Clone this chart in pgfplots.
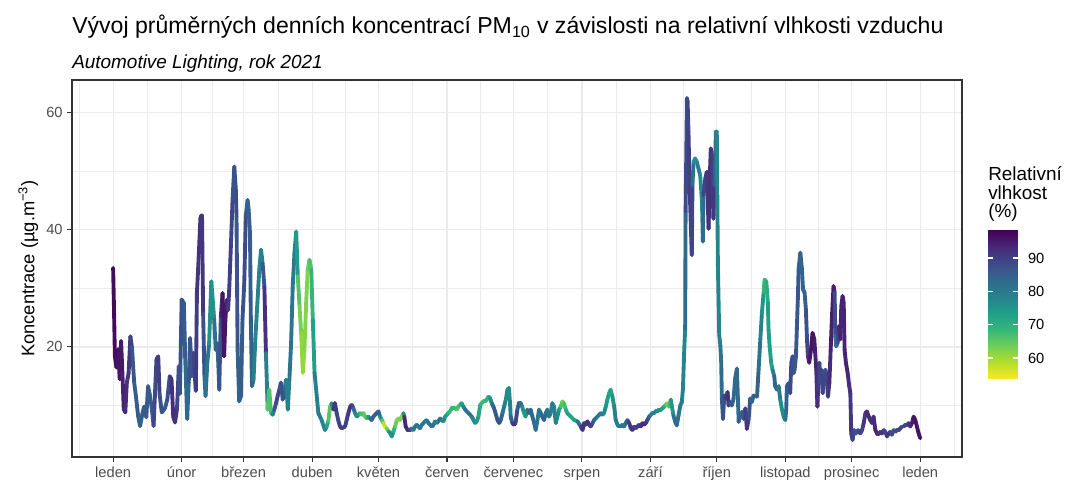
\documentclass[border=0pt]{standalone}
\usepackage{fontspec}
\setmainfont{Liberation Sans}
\usepackage{pgfplots}
\pgfplotsset{compat=1.18}
\definecolor{gridc}{RGB}{235,235,235}
\definecolor{tickc}{RGB}{77,77,77}
\definecolor{framec}{RGB}{51,51,51}
\pgfplotsset{colormap={rviridis}{rgb255=(253,231,37) rgb255=(181,222,43) rgb255=(110,206,88) rgb255=(53,183,121) rgb255=(31,158,137) rgb255=(38,130,142) rgb255=(49,104,142) rgb255=(62,73,137) rgb255=(72,40,120) rgb255=(68,1,84)}}
\pgfplotstableread{
d v h
0 33.5 97
0.4 26.4 97
0.8 18.4 97
1.5 16.5 97
2.2 19.6 96
3.0 14.5 96
3.6 21.0 96
4.2 15.5 95
4.8 9.4 94
5.5 8.8 94
6.2 13.9 92
7.0 15.5 91
7.8 21.8 91
8.5 20.0 88
9.5 14.0 85
10.3 11.6 85
11.3 8.2 86
12.2 6.5 84
13.2 8.5 86
14.0 9.8 85
15.0 8.0 85
15.8 13.3 86
16.5 12.0 85
17.5 9.5 86
18.3 6.5 85
19.6 17.9 92
20.4 18.4 92
21.0 12.0 88
22.0 8.8 86
23.4 9.5 86
24.5 11.0 85
25.6 15.0 90
26.4 14.5 92
27.2 8.0 93
28.0 7.1 93
28.9 9.5 90
29.7 16.7 88
30.2 12.0 88
31.0 28.1 86
32.0 27.5 87
32.6 18.0 84
33.5 7.7 82
34.2 14.0 85
34.8 21.5 88
35.6 15.0 85
36.3 19.0 88
37.4 12.5 90
37.9 29.2 91
38.7 35.4 92
39.5 42.2 92
40.2 42.5 92
40.7 25.8 90
41.3 15.0 84
41.8 11.6 80
42.6 17.3 82
43.4 20.5 80
44.4 31.2 72
45.7 24.7 80
46.4 19.5 84
47.2 20.6 85
48.0 12.7 84
48.7 25.2 90
49.5 29.2 96
50.2 18.4 96
50.7 24.1 96
51.3 28.0 95
52.0 26.3 92
52.5 29.8 90
53.3 37.7 90
54.0 45.1 88
54.8 50.8 86
55.5 46.8 88
55.8 42.3 88
56.3 19.5 85
57.0 10.7 84
57.8 11.6 85
58.5 24.7 86
59.3 30.9 88
60.0 42.3 88
60.8 45.1 84
61.3 43.4 84
61.9 39.4 86
62.3 24.1 85
62.8 13.3 84
63.5 14.4 82
64.3 21.3 76
65.4 28.6 80
66.1 33.2 78
66.9 36.6 78
67.6 34.3 80
68.4 30.3 92
69.1 19.0 92
69.9 9.3 66
70.6 12.7 65
71.4 8.7 68
72.2 8.4 72
72.9 9.3 85
73.7 10.4 88
74.4 11.6 90
75.2 12.7 88
75.9 13.9 86
76.7 11.0 88
77.5 12.7 86
78.2 14.4 80
79.0 9.3 78
79.7 14.4 80
80.5 20.7 82
81.2 30.2 80
82.0 36.0 80
82.8 39.7 80
83.5 32.1 68
84.3 27.0 64
85.0 22.4 62
85.8 15.6 60
86.5 19.5 62
87.3 27.5 62
88.0 33.2 63
88.8 34.9 65
89.6 33.2 68
90.3 24.7 70
91.1 15.6 76
92.8 8.7 82
94.3 7.5 78
95.8 5.8 78
96.6 6.4 76
97.3 7.3 68
98.1 9.8 64
98.8 10.4 66
99.6 9.3 88
100.3 10.4 93
101.1 8.7 90
101.8 7.5 88
102.6 6.4 90
103.4 6.1 90
104.9 6.4 90
105.6 7.5 90
106.4 8.7 90
107.2 9.8 92
107.9 10.1 92
108.7 9.5 88
109.4 8.7 78
110.2 8.1 76
110.9 8.4 76
111.7 8.7 70
112.4 8.4 66
113.2 8.7 66
113.9 8.1 64
114.7 7.8 66
115.4 8.1 70
116.2 7.8 80
116.9 7.5 84
117.7 8.1 86
118.4 8.4 84
119.2 8.7 86
120.0 9.0 88
120.7 8.1 80
121.5 7.5 72
122.2 7.0 60
123.0 6.4 56
123.7 6.1 58
124.5 5.6 70
125.3 5.3 76
126.0 4.7 78
126.8 5.6 74
127.5 6.4 66
128.3 7.5 62
129.0 7.8 62
129.8 7.5 64
130.5 8.1 62
131.3 8.7 60
131.7 8.1 92
132.3 6.4 94
133.2 5.8 94
134.3 5.8 90
135.0 6.1 82
135.8 5.8 80
136.5 6.4 80
137.3 6.7 84
138.0 6.4 80
138.8 6.1 78
139.6 6.7 82
141.1 7.3 80
141.8 7.5 78
142.6 7.0 82
144.1 6.4 80
144.9 6.7 82
145.6 7.3 80
146.4 7.0 78
147.1 7.3 80
147.9 7.8 82
148.6 7.5 80
149.4 7.3 78
150.1 8.1 76
151.6 8.7 70
152.4 9.0 68
153.1 9.5 68
154.6 9.5 70
155.4 9.3 66
156.1 9.8 66
156.9 10.1 68
157.6 10.4 70
158.4 9.8 78
159.2 9.3 80
159.9 9.0 82
160.7 8.7 82
162.2 8.1 80
163.0 7.5 78
163.7 7.0 76
164.5 7.3 76
165.2 8.1 74
166.0 10.1 70
166.7 10.4 68
167.5 10.7 68
168.2 10.7 68
169.0 11.0 68
169.7 11.5 70
170.5 11.3 72
171.2 10.4 80
172.0 9.8 84
172.7 9.0 86
173.8 7.5 86
174.6 7.0 88
175.3 7.5 86
176.1 8.7 82
176.8 9.8 80
177.6 11.0 78
178.3 12.7 76
179.0 13.0 76
179.5 10.4 78
179.8 8.1 80
180.5 7.0 88
181.3 6.7 92
182.0 7.0 92
182.8 9.3 86
183.5 10.4 84
184.3 10.4 84
185.0 9.8 80
185.8 8.7 72
186.5 8.1 70
187.3 9.3 80
188.0 8.7 82
188.8 9.3 84
189.6 8.1 84
190.4 7.0 82
191.1 5.8 84
191.9 7.5 80
192.6 9.3 80
193.4 8.7 82
194.1 8.1 84
194.9 7.5 86
195.6 8.7 82
196.4 9.3 80
197.1 8.1 82
197.9 8.7 80
198.6 10.4 78
199.4 9.8 80
200.2 7.0 78
200.9 8.1 78
201.7 9.3 76
202.4 9.8 70
203.2 10.7 62
203.9 10.4 64
204.7 9.3 70
205.4 8.7 72
206.9 8.1 74
208.5 7.5 70
210.0 7.3 76
211.5 6.4 88
212.3 5.8 92
213.0 7.0 92
213.8 6.7 90
214.5 7.3 92
215.3 6.7 92
216.0 6.4 90
216.8 7.0 88
217.5 7.5 84
218.3 7.8 80
219.0 8.1 82
219.8 8.4 80
220.5 8.7 78
221.3 8.4 80
222.0 8.7 78
222.8 9.8 76
223.5 11.0 74
224.3 12.1 72
225.0 12.7 72
225.8 11.5 74
226.6 9.8 78
227.3 7.5 80
228.1 6.7 80
228.8 6.4 80
229.6 6.4 80
230.3 6.7 82
231.1 6.4 80
231.8 7.0 82
232.6 7.5 86
233.4 7.0 90
234.1 6.1 92
234.9 5.8 92
235.6 6.4 90
236.4 6.1 88
237.1 6.4 90
237.9 6.7 90
238.6 6.4 92
239.4 7.0 92
240.1 6.7 94
240.9 7.0 92
241.6 7.5 90
242.4 8.1 88
243.1 8.4 80
243.9 8.7 78
244.6 8.7 78
245.4 9.0 78
246.2 9.0 78
246.9 9.3 76
247.7 9.3 76
248.4 9.5 74
249.2 9.8 72
249.9 10.1 68
250.7 10.4 62
251.4 9.8 64
252.2 11.0 70
253.4 8.3 80
254.2 7.2 84
254.9 6.6 84
255.7 8.3 82
256.5 10.0 80
257.2 10.6 80
257.7 12.9 78
258.3 19.7 78
258.7 23.1 78
258.9 43.1 88
259.5 62.5 88
259.8 62.0 88
260.2 56.8 90
260.7 47.6 90
261.3 40.2 90
261.7 35.7 90
262.0 47.6 88
262.5 51.6 76
263.2 52.2 74
264.0 51.6 78
264.7 50.5 80
265.5 49.3 78
266.3 44.8 76
266.7 38.0 78
267.0 45.9 88
267.8 48.8 90
268.5 49.9 90
269.3 40.2 92
269.7 47.6 92
270.3 53.9 92
270.8 52.8 90
271.2 45.9 90
271.5 41.9 92
272.0 47.6 90
272.6 56.8 78
273.0 56.8 78
273.5 34.0 78
274.1 22.0 78
274.6 20.3 80
275.0 17.4 82
275.3 11.2 84
275.8 7.7 88
276.4 11.7 86
277.1 11.2 90
277.9 12.3 92
278.3 10.0 92
279.1 10.6 88
279.8 10.0 86
280.6 11.2 84
281.3 14.6 82
282.1 16.3 82
282.9 7.2 84
283.6 8.3 86
284.4 8.9 84
285.1 7.7 86
285.9 9.5 88
286.6 6.0 92
287.4 7.7 90
288.1 11.2 84
288.9 10.6 84
289.6 11.7 84
291.2 11.5 85
291.9 16.1 84
292.7 21.3 80
293.4 25.8 78
294.2 29.3 72
294.6 31.5 66
295.4 31.2 70
296.1 27.5 72
296.4 23.0 74
296.9 20.1 74
297.6 17.3 72
298.2 16.1 74
299.0 15.0 84
299.4 13.3 84
300.2 12.7 84
301.0 13.3 82
301.7 11.0 78
302.5 9.3 76
303.2 8.1 76
304.0 7.5 78
304.4 9.3 84
304.7 13.3 86
305.5 13.8 86
306.2 12.1 88
306.7 17.3 88
307.3 18.4 88
307.7 15.5 86
308.2 16.1 86
308.8 18.4 86
309.3 24.1 86
309.7 28.7 86
310.0 33.3 86
310.8 36.1 84
311.5 33.3 84
312.0 29.8 84
312.7 29.3 84
313.3 26.4 86
313.8 21.3 88
314.2 18.4 90
314.8 17.3 94
315.6 19.5 96
316.3 22.4 96
317.1 21.3 96
317.5 19.0 94
318.0 16.1 94
318.5 9.8 92
318.8 12.7 92
319.4 17.3 90
319.8 13.8 88
320.3 16.1 88
320.9 12.1 90
321.3 15.5 88
322.1 16.1 86
322.5 15.5 88
323.3 11.5 90
323.9 13.8 92
324.5 19.5 94
325.1 25.3 95
325.8 30.4 95
326.3 29.3 94
326.6 21.8 82
327.0 20.1 80
327.7 20.7 84
328.1 23.5 92
328.9 21.3 94
329.3 27.0 94
329.9 28.7 94
330.4 27.5 94
330.8 19.5 94
331.4 17.3 94
332.2 15.5 94
332.9 13.3 92
333.4 12.1 92
333.8 5.2 90
334.4 4.1 90
335.2 5.8 88
335.9 5.2 86
336.9 5.8 88
337.9 5.2 88
338.7 5.8 90
339.4 6.9 90
340.2 8.7 92
340.9 9.0 92
341.7 8.1 94
342.4 7.5 92
343.2 7.0 92
343.9 8.1 92
344.7 5.8 94
345.5 5.2 94
346.2 5.2 92
347.0 5.5 90
347.7 5.2 92
348.5 5.8 90
349.2 5.5 88
350.0 4.7 90
350.7 5.2 92
351.5 5.5 90
352.2 5.0 88
353.0 5.8 88
353.7 5.5 86
354.5 5.8 88
355.3 5.8 88
356.0 6.1 90
356.8 6.4 88
357.5 6.4 88
358.3 6.7 88
359.0 6.7 90
359.8 7.0 90
360.5 6.4 92
361.3 7.0 94
362.0 8.1 96
362.8 7.5 96
363.5 6.4 96
364.3 5.2 96
365.0 4.4 96
}\pmdata
\begin{document}
\begin{tikzpicture}
\useasboundingbox (-54pt,-20.25pt) rectangle (746.25pt,342.75pt);
\begin{axis}[
  at={(0,0)}, anchor=south west,
  scale only axis, width=667.5pt, height=282.75pt,
  xmin=-18.6, xmax=383.9, ymin=1.2, ymax=65.6,
  xtick={0,31,59,90,120,151,181,212,243,273,304,334,365},
  xticklabels={leden,únor,březen,duben,květen,červen,červenec,srpen,září,říjen,listopad,prosinec,leden},
  minor xtick={-15.5,15.5,45,74.5,105,135.5,166,196.5,227.5,258,288.5,319,349.5,380.5},
  ytick={20,40,60}, minor ytick={10,30,50},
  grid=both,
  major grid style={draw=gridc, line width=0.9pt},
  minor grid style={draw=gridc, line width=0.5pt},
  minor tick length=0pt,
  major tick length=3.5pt,
  tick align=outside, tick pos=left,
  tick style={draw=framec, line width=0.8pt},
  axis line style={draw=framec, line width=0.8pt},
  ticklabel style={font=\fontsize{11}{13}\selectfont, text=tickc},
  xticklabel style={text height=8pt, text depth=2.5pt},
  /pgf/number format/assume math mode=true,
  ylabel={Koncentrace (µg.m\textsuperscript{−3})},
  every axis y label/.style={at={(axis description cs:-0.049,0.5)}, rotate=90, anchor=center, font=\fontsize{13.75}{16}\selectfont},
  colormap name=rviridis,
  point meta min=53.7, point meta max=98.4,
]
\addplot[mesh, point meta=explicit, line width=2.9pt, line cap=round, line join=round, shader=flat] table[x=d, y=v, meta=h] {\pmdata};
\end{axis}
\begin{axis}[
  at={(687pt,58.5pt)}, anchor=south west,
  scale only axis, width=22.5pt, height=111.75pt,
  view={0}{90},
  xmin=0, xmax=1, ymin=53.7, ymax=98.4,
  xtick=\empty, ztick=\empty,
  ytick={60,70,80,90},
  ytick pos=both, yticklabel pos=right,
  tick align=inside,
  major tick length=3.75pt,
  tick style={draw=white, line width=0.8pt},
  axis line style={draw=none},
  axis on top,
  yticklabel style={font=\fontsize{11}{13}\selectfont, text=black, xshift=4pt},
  /pgf/number format/assume math mode=true,
  colormap name=rviridis,
  point meta min=53.7, point meta max=98.4,
]
\addplot3[surf, shader=interp, point meta=y] coordinates {
(0,53.7,0) (1,53.7,0)

(0,58,0) (1,58,0)

(0,62,0) (1,62,0)

(0,66,0) (1,66,0)

(0,70,0) (1,70,0)

(0,74,0) (1,74,0)

(0,78,0) (1,78,0)

(0,82,0) (1,82,0)

(0,86,0) (1,86,0)

(0,90,0) (1,90,0)

(0,94,0) (1,94,0)

(0,98.4,0) (1,98.4,0)
};
\end{axis}
\node[anchor=base west, inner sep=0pt, font=\fontsize{17.3}{20}\selectfont] at (0pt,317.25pt) {Vývoj průměrných denních koncentrací PM\textsubscript{10} v závislosti na relativní vlhkosti vzduchu};
\node[anchor=base west, inner sep=0pt, font=\fontsize{14.2}{16}\selectfont\itshape] at (0pt,291pt) {Automotive Lighting, rok 2021};
\node[anchor=base west, inner sep=0pt, font=\fontsize{14.2}{16}\selectfont] at (687pt,207pt) {Relativní};
\node[anchor=base west, inner sep=0pt, font=\fontsize{14.2}{16}\selectfont] at (687pt,193.1pt) {vlhkost};
\node[anchor=base west, inner sep=0pt, font=\fontsize{14.2}{16}\selectfont] at (687pt,179.25pt) {(\%)};
\end{tikzpicture}
\end{document}
